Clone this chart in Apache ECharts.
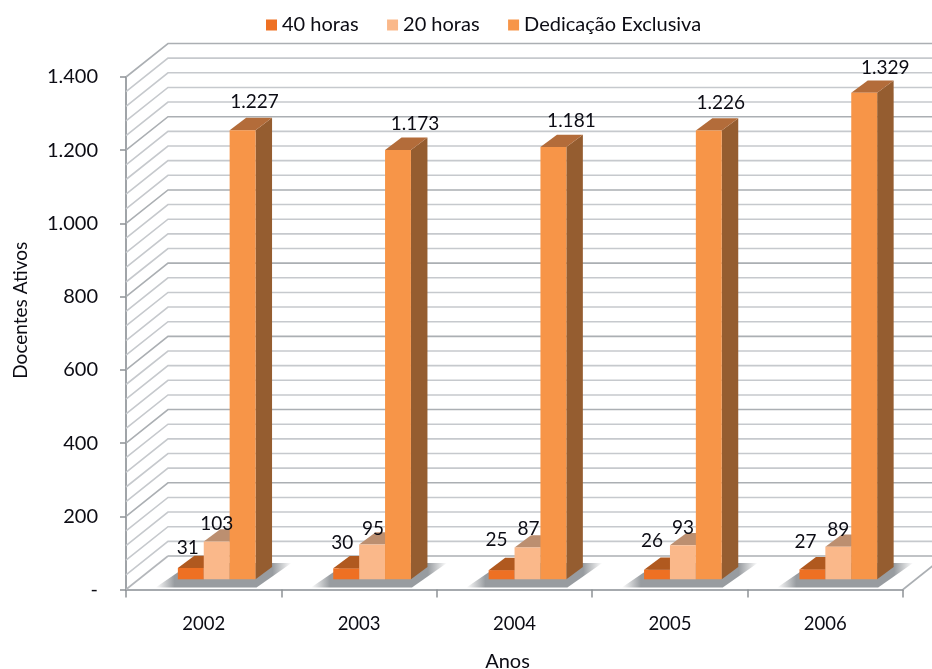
<!DOCTYPE html>
<html><head><meta charset="utf-8">
<style>html,body{margin:0;padding:0;background:#fff}#c{width:932px;height:669px}</style>
<script src="https://cdn.jsdelivr.net/npm/echarts@6/dist/echarts.min.js"></script>
</head><body><div id="c"></div>
<script>
const categories = ['2002','2003','2004','2005','2006'];
const horas40 = [31,30,25,26,27];
const horas20 = [103,95,87,93,89];
const dedicacao = [1227,1173,1181,1226,1329];
const seriesNames = ['40 horas','20 horas','Dedicação Exclusiva'];
const yTicks = {min:0,max:1400,interval:200,minor:40};

// layout and style (not data)
const FONT = 'Lato', INK = '#0C0C14';
const WALL = [42,-33.5], PLANE = [13,-10.2], DEPTH = [16.5,-12.3];
const palette = [
  {front:'#EE7023',top:'#B0591F',side:'#A0501C'},
  {front:'#FAB88A',top:'#BC8F70',side:'#A88064'},
  {front:'#F79548',top:'#B36C3A',side:'#955D30'}
];
const labelShift = [
  [[-3,-8],[-4,-13],[-5,-18],[-5,-17],[-7,-15]],
  [[0,-5],[1,-3],[1,-6],[0,-5],[0,-5]],
  [[12,-16],[17,-14],[18,-14],[12,-15],[21,-13]]
];
const fmt = v => { const s=String(v); return s.length>3 ? s.slice(0,-3)+'.'+s.slice(-3) : s; };

const poly = (pts,fill,z2) => ({type:'polygon',z2:z2||0,shape:{points:pts},style:{fill:fill}});

function wallItem(params, api){
  const v = api.value(1), cs = params.coordSys;
  const y = api.coord([0,v])[1];
  const major = v % yTicks.interval === 0;
  const stroke = major ? '#ABAFB3' : '#C6C9CD';
  const x0 = cs.x, x1 = cs.x+cs.width;
  const pts = v===0
    ? [[x0+WALL[0],y+WALL[1]],[x1+WALL[0],y+WALL[1]]]
    : [[x0,y],[x0+WALL[0],y+WALL[1]],[x1+WALL[0],y+WALL[1]]];
  const kids = [{type:'polyline',shape:{points:pts},style:{fill:null,stroke:stroke,lineWidth:1.6}}];
  if(v===0){
    kids.push({type:'polyline',shape:{points:[[x0,y],[x0+WALL[0],y+WALL[1]]]},style:{fill:null,stroke:'#B4B7BB',lineWidth:1.6}});
    kids.push({type:'polyline',shape:{points:[[x1,y],[x1+WALL[0],y+WALL[1]]]},style:{fill:null,stroke:'#ABAFB3',lineWidth:1.6}});
  }
  return {type:'group',children:kids};
}

function shadowItem(params, api){
  const c = api.coord([api.value(0),0]);
  const band = api.size([1,0])[0], w = band/6;
  const r = c[0]+PLANE[0]+1.5*w;   // right edge of the cluster
  const y = c[1]-2;
  const pts = [[r-100,y],[r+1,y],[r+36,y-24.5],[r-64,y-24.5]];
  return {type:'polygon',shape:{points:pts},style:{
    fill:{type:'linear',x:0,y:0,x2:1,y2:0,colorStops:[
      {offset:0,color:'rgba(152,156,160,0)'},
      {offset:0.14,color:'rgba(152,156,160,1)'},
      {offset:0.86,color:'rgba(152,156,160,1)'},
      {offset:1,color:'rgba(152,156,160,0)'}]}}};
}

function barGeom(s, api){
  const i = api.value(0), v = api.value(1);
  const band = api.size([1,0])[0], w = band/6;
  const c = api.coord([i,0]), t = api.coord([i,v]);
  const x0 = c[0]+PLANE[0]+(s-1.5)*w;
  return {i,v,w,x0,x1:x0+w,yb:c[1]+PLANE[1],yt:t[1]+PLANE[1]};
}

function barRenderer(s){
  return function(params, api){
    const g = barGeom(s, api), dx = DEPTH[0], dy = DEPTH[1], col = palette[s];
    return {type:'group',children:[
      poly([[g.x1,g.yb],[g.x1+dx,g.yb+dy],[g.x1+dx,g.yt+dy],[g.x1,g.yt]],col.side),
      poly([[g.x0,g.yt],[g.x1,g.yt],[g.x1+dx,g.yt+dy],[g.x0+dx,g.yt+dy]],col.top),
      poly([[g.x0,g.yb],[g.x1,g.yb],[g.x1,g.yt],[g.x0,g.yt]],col.front)
    ]};
  };
}

function labelRenderer(s){
  return function(params, api){
    const g = barGeom(s, api), sh = labelShift[s][g.i];
    return {type:'text',style:{text:fmt(g.v),x:g.x0+g.w/2+sh[0],y:g.yt+DEPTH[1]+sh[1],
      align:'center',verticalAlign:'middle',fontFamily:FONT,fontSize:19,fill:INK}};
  };
}

const wallValues = [];
for(let v=yTicks.min;v<=yTicks.max;v+=yTicks.minor) wallValues.push([0,v]);
const values = [horas40,horas20,dedicacao];

const option = {
  animation:false,
  backgroundColor:'#fff',
  textStyle:{fontFamily:FONT},
  legend:{
    data:seriesNames,left:261,top:10,itemWidth:11,itemHeight:11,itemGap:28.5,icon:'rect',
    textStyle:{fontFamily:FONT,fontSize:20,color:INK}
  },
  grid:{left:126,right:29,top:77,bottom:79.5,containLabel:false,outerBoundsMode:'none'},
  xAxis:{
    type:'category',data:categories,
    name:'Anos',nameLocation:'middle',nameGap:62,
    nameTextStyle:{fontFamily:FONT,fontSize:20,color:INK,padding:[0,14,0,0]},
    axisLine:{lineStyle:{color:'#A6AAAE',width:2}},
    axisTick:{show:true,alignWithLabel:false,length:8,lineStyle:{color:'#8E9296',width:1.5}},
    axisLabel:{margin:25,fontFamily:FONT,fontSize:18.5,color:INK},
    splitLine:{show:false}
  },
  yAxis:{
    type:'value',min:yTicks.min,max:yTicks.max,interval:yTicks.interval,
    name:'Docentes Ativos',nameLocation:'middle',nameGap:96,
    nameTextStyle:{fontFamily:FONT,fontSize:19,color:INK,padding:[0,0,0,46]},
    axisLine:{show:true,lineStyle:{color:'#A0A4A8',width:2}},
    axisTick:{show:true,length:6,lineStyle:{color:'#8E9296',width:1.5}},
    axisLabel:{margin:28,fontFamily:FONT,fontSize:20,color:INK,
      formatter:v=>v===0?'-':fmt(v)},
    splitLine:{show:false}
  },
  series:[
    {type:'custom',name:'parede',silent:true,z:1,renderItem:wallItem,data:wallValues,clip:false},
    {type:'custom',name:'sombra',silent:true,z:2,renderItem:shadowItem,clip:false,
      data:categories.map((c,i)=>[i,0])},
    ...seriesNames.map((n,s)=>({
      type:'custom',name:n,z:3+s,renderItem:barRenderer(s),clip:false,
      itemStyle:{color:palette[s].front},
      data:values[s].map((v,i)=>[i,v])
    })),
    ...seriesNames.map((n,s)=>({
      type:'custom',name:'rotulo '+n,silent:true,z:10,renderItem:labelRenderer(s),clip:false,
      data:values[s].map((v,i)=>[i,v])
    }))
  ]
};
echarts.init(document.getElementById('c'),null,{renderer:'canvas'}).setOption(option);
</script></body></html>
